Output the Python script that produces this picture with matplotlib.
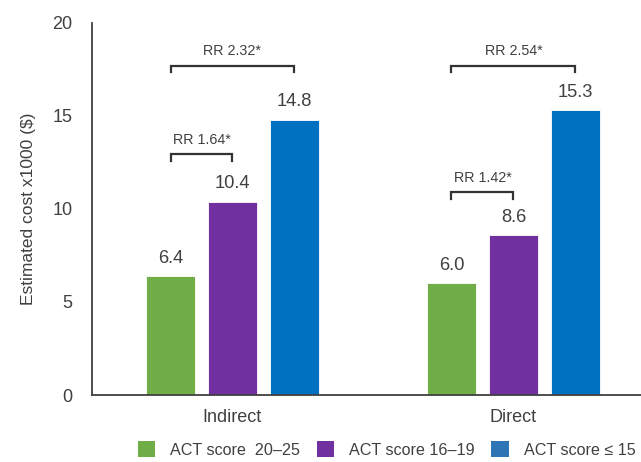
import matplotlib
matplotlib.use("Agg")
import matplotlib.pyplot as plt
from matplotlib.patches import Patch

categories = ["Indirect", "Direct"]
series_names = ["ACT score  20\u201325", "ACT score 16\u201319", "ACT score \u2264 15"]
values_green = [6.4, 6.0]
values_purple = [10.4, 8.6]
values_blue = [14.8, 15.3]
value_labels = [["6.4", "6.0"], ["10.4", "8.6"], ["14.8", "15.3"]]
# brackets: (category index, series from, series to, label, height)
brackets = [
    (0, 0, 2, "RR 2.32*", 17.7),
    (0, 0, 1, "RR 1.64*", 12.95),
    (1, 0, 2, "RR 2.54*", 17.7),
    (1, 0, 1, "RR 1.42*", 10.9),
]
yticks = [0, 5, 10, 15, 20]

colors = ["#70AD47", "#7030A0", "#0070C0"]
legend_colors = ["#70AD47", "#7030A0", "#2E75B6"]
txt = "#404040"

plt.rcParams['font.family'] = ['Liberation Sans', 'DejaVu Sans']

fig = plt.figure(figsize=(6.41, 4.62), dpi=100)
ax = fig.add_axes([92/641, 67/462, 1 - 92/641, (395-23)/462])

width = 0.174
step = 0.2206
series = [values_green, values_purple, values_blue]
for i, vals in enumerate(series):
    xs = [c + (i - 1) * step for c in range(len(categories))]
    ax.bar(xs, vals, width=width, color=colors[i], edgecolor="white", linewidth=0.6)
    for x, v, lab in zip(xs, vals, value_labels[i]):
        ax.text(x, v + 0.5, lab, ha="center", va="bottom", fontsize=13.2, color=txt)

for c, s0, s1, lab, h in brackets:
    x0 = c + (s0 - 1) * step
    x1 = c + (s1 - 1) * step
    ax.plot([x0, x0, x1, x1], [h - 0.35, h, h, h - 0.35], color="#333333", lw=1.6,
            solid_joinstyle="miter")
    ax.text((x0 + x1) / 2, h + 0.4, lab, ha="center", va="bottom", fontsize=10.3, color=txt)

ax.set_xlim(-0.5, 1.454)
ax.set_ylim(0, 20)
ax.set_yticks(yticks)
ax.set_yticklabels([str(t) for t in yticks], fontsize=13, color=txt)
ax.set_xticks(range(len(categories)))
ax.set_xticklabels(categories, fontsize=13, color=txt)
ax.tick_params(axis="both", length=0)
ax.tick_params(axis="y", pad=14)
ax.tick_params(axis="x", pad=10)
for s in ["top", "right"]:
    ax.spines[s].set_visible(False)
for s in ["left", "bottom"]:
    ax.spines[s].set_color("#404040")
    ax.spines[s].set_linewidth(1.3)
ax.set_ylabel("Estimated cost x1000 ($)", fontsize=12.5, color=txt, labelpad=12)

handles = [Patch(facecolor=c, edgecolor="none") for c in legend_colors]
fig.legend(handles, series_names, loc="lower center", bbox_to_anchor=(0.603, -0.022), ncol=3,
           frameon=False, fontsize=11.6, handlelength=1.1, handleheight=1.1,
           columnspacing=1.05, handletextpad=0.9, labelcolor=txt)

fig.savefig("out.png", dpi=100)
